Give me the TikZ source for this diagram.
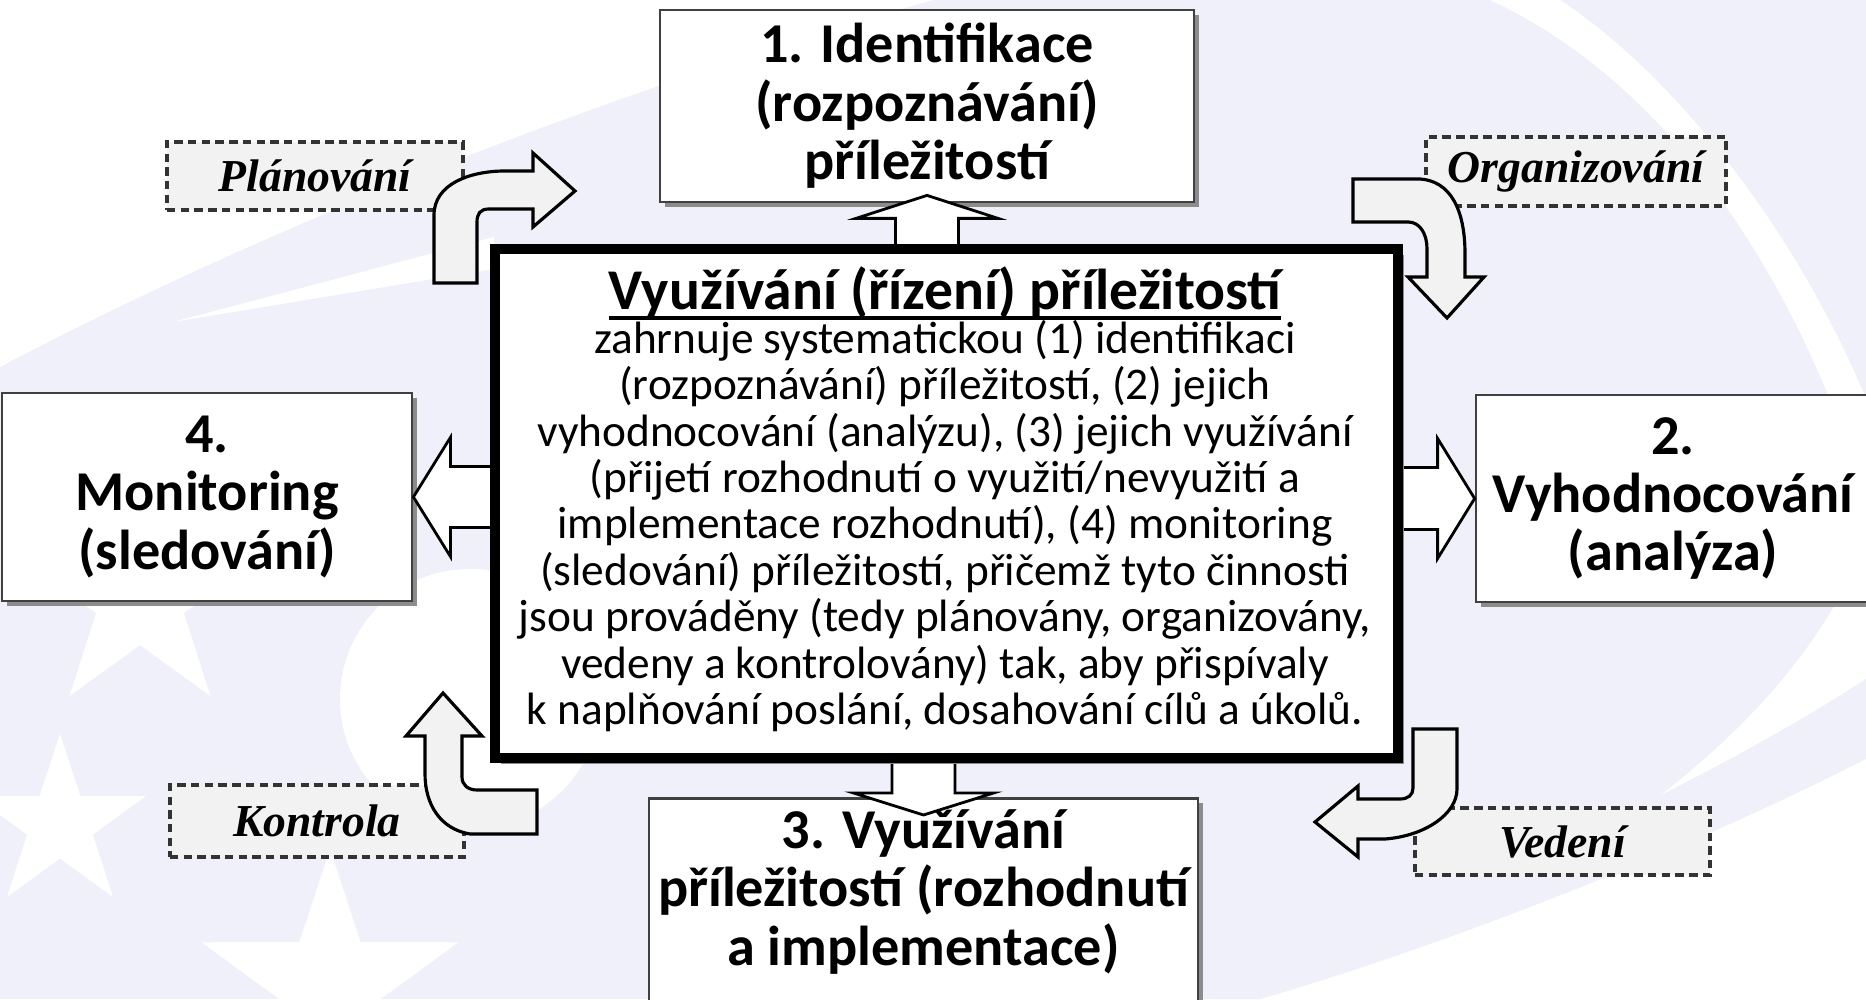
\documentclass[tikz,border=0pt]{standalone}
\usepackage{fontspec}
\setmainfont{Carlito}
\newfontfamily\tagfont{Liberation Serif}
\usetikzlibrary{calc,shadows,shapes.geometric}
\definecolor{bgpale}{RGB}{239,240,250}
\definecolor{tagfill}{RGB}{242,242,242}
% thick underline for the title
\newcommand{\thickul}[1]{\leavevmode\setbox0\hbox{#1}\rlap{\rule[-\dimexpr\dp0+0.5pt\relax]{\wd0}{1pt}}\box0}
\begin{document}
\begin{tikzpicture}[
		box/.style={draw=black!75, line width=0.8pt, fill=white, align=center, inner sep=0pt,
			font=\bfseries\fontsize{16}{16.6}\selectfont,
			drop shadow={shadow xshift=1.4pt, shadow yshift=-1.4pt, fill=black!45, opacity=1}},
		mainbox/.style={draw=black, line width=2.6pt, fill=white, inner sep=0pt,
			drop shadow={shadow xshift=1.6pt, shadow yshift=-1.6pt, fill=black!45, opacity=1}},
		tag/.style={draw=black!80, line width=1pt, dash pattern=on 2.4pt off 1.5pt, fill=tagfill,
			inner sep=0pt, font=\tagfont\bfseries\itshape\fontsize{13}{14}\selectfont},
		blockarr/.style={draw=black, line width=0.8pt, fill=white},
		bendarr/.style={draw=black, line width=0.9pt, fill=tagfill},
		whitestar/.style={star, star points=5, star point ratio=2.6, fill=white, inner sep=0pt}]
	\useasboundingbox (0,0) rectangle (18.66,9.99);
	% pale background swooshes
	\begin{scope}
		\clip (0,0) rectangle (18.66,9.99);
		\fill[bgpale] (0,0) rectangle (18.66,9.99);
		\fill[white] (0,9.99) -- (9.33,9.99) .. controls (6.5,9.2) and (3.0,7.9) .. (0,6.32) -- cycle;
		\fill[white] (1.73,6.77) -- (4.94,7.62) -- (4.94,7.30) -- cycle;
		\fill[white] (15.6,9.99) .. controls (16.8,9.2) and (18.0,7.6) .. (18.66,6.0) -- (18.66,5.0)
			.. controls (17.9,7.4) and (16.6,9.2) .. (14.9,9.99) -- cycle;
		\fill[white] (18.66,4.6) .. controls (17.9,2.5) and (15.0,0.6) .. (12.2,0) -- (18.66,0) -- cycle;
		\fill[bgpale] (18.66,2.4) .. controls (16.5,1.3) and (14.0,0.4) .. (12.6,0) -- (11.4,0)
			.. controls (13.5,0.6) and (16.5,1.8) .. (18.66,3.2) -- cycle;
		\fill[white] (4.7,3.0) circle (1.3);
		\foreach \p/\s [count=\i] in {(1.4,4.0)/2.4, (0.6,1.75)/1.8, (3.3,0.15)/2.7}
			\node[whitestar, minimum size=\s cm] (st\i) at \p {};
	\end{scope}
	% the four stages
	\node[box, minimum width=5.34cm, minimum height=1.92cm] (b1) at (9.27,8.93)
		{1. Identifikace\\(rozpoznávání)\\příležitostí};
	\node[box, minimum width=4.10cm, minimum height=2.08cm] (b4) at (2.07,5.02)
		{4.\\Monitoring\\(sledování)};
	\node[box, minimum width=3.94cm, minimum height=2.07cm] (b2) at (16.73,5.005)
		{2.\\Vyhodnocování\\(analýza)};
	\node[box, minimum width=5.49cm, minimum height=2.6cm, anchor=north] (b3) at (9.235,2.02) {};
	\node[align=center, inner sep=0pt, font=\bfseries\fontsize{16}{16.6}\selectfont] (b3t) at (9.235,1.07)
		{3. Využívání\\příležitostí (rozhodnutí\\a implementace)};
	% the central box, drawn after the arrows
	\path (9.465,4.955) node[minimum width=9.03cm, minimum height=5.09cm, inner sep=0pt] (cen) {};
	% straight block arrows
	\draw[blockarr] ([xshift=-3.15mm]b1.south |- cen.north) |- ([xshift=-7.1mm,yshift=-1.5mm]b1.south)
		-- ([yshift=0.8mm]b1.south) -- ([xshift=7.1mm,yshift=-1.5mm]b1.south)
		-| ([xshift=3.15mm]b1.south |- cen.north) -- cycle;
	\draw[blockarr] ([xshift=-3.15mm]b3.north |- cen.south) |- ([xshift=-7mm,yshift=0.4mm]b3.north)
		-- ([yshift=-1.8mm]b3.north) -- ([xshift=7mm,yshift=0.4mm]b3.north)
		-| ([xshift=3.15mm]b3.north |- cen.south) -- cycle;
	\draw[blockarr] ([yshift=3.05mm]b4.east -| cen.west) -| ([xshift=3.7mm,yshift=5.95mm]b4.east)
		-- (b4.east) -- ([xshift=3.7mm,yshift=-5.95mm]b4.east)
		|- ([yshift=-3.05mm]b4.east -| cen.west) -- cycle;
	\draw[blockarr] ([yshift=3.1mm]b2.west -| cen.east) -| ([xshift=-3.7mm,yshift=6mm]b2.west)
		-- (b2.west) -- ([xshift=-3.7mm,yshift=-6mm]b2.west)
		|- ([yshift=-3.1mm]b2.west -| cen.east) -- cycle;
	\node[mainbox, minimum width=9.03cm, minimum height=5.09cm] (main) at (cen) {};
	\node[align=center, inner sep=0pt, font=\fontsize{12.9}{13.2}\selectfont] (maintxt) at (9.45,5.00)
		{{\bfseries\fontsize{16.4}{16}\selectfont\thickul{Využívání (řízení) příležitostí}}\\[-0.6pt]
		zahrnuje systematickou (1) identifikaci\\
		(rozpoznávání) příležitostí, (2) jejich\\
		vyhodnocování (analýzu), (3) jejich využívání\\
		(přijetí rozhodnutí o využití/nevyužití a\\
		implementace rozhodnutí), (4) monitoring\\
		(sledování) příležitostí, přičemž tyto činnosti\\
		jsou prováděny (tedy plánovány, organizovány,\\
		vedeny a kontrolovány) tak, aby přispívaly\\
		k naplňování poslání, dosahování cílů a úkolů.};
	% management functions
	\node[tag, minimum width=2.96cm, minimum height=0.68cm] (plan) at (3.15,8.23) {Plánování};
	\node[tag, minimum width=3.00cm, minimum height=0.69cm] (org) at (15.76,8.275) {Organizování};
	\node[tag, minimum width=2.94cm, minimum height=0.72cm] (kon) at (3.17,1.78) {Kontrola};
	\node[tag, minimum width=2.95cm, minimum height=0.67cm] (ved) at (15.625,1.575) {Vedení};
	% bent arrows
	\draw[bendarr] (4.34,7.16) -- (4.34,7.84) .. controls (4.34,8.15) and (4.70,8.28) .. (5.05,8.28)
		-- (5.33,8.28) -- (5.33,8.46) -- (5.75,8.08) -- (5.33,7.72) -- (5.33,7.90) -- (4.89,7.90)
		.. controls (4.80,7.90) and (4.77,7.85) .. (4.77,7.77) -- (4.77,7.16) -- cycle;
	\draw[bendarr] (13.53,8.20) -- (14.20,8.20) .. controls (14.50,8.18) and (14.65,7.90) .. (14.65,7.45)
		-- (14.65,7.22) -- (14.84,7.22) -- (14.47,6.81) -- (14.08,7.22) -- (14.27,7.22) -- (14.27,7.50)
		.. controls (14.27,7.65) and (14.20,7.77) .. (14.08,7.77) -- (13.53,7.77) -- cycle;
	\draw[bendarr] (4.43,3.06) -- (4.82,2.63) -- (4.62,2.63) -- (4.62,2.22)
		.. controls (4.62,2.14) and (4.68,2.09) .. (4.77,2.09) -- (5.37,2.09) -- (5.37,1.65) -- (4.70,1.65)
		.. controls (4.40,1.70) and (4.25,1.95) .. (4.25,2.25) -- (4.25,2.63) -- (4.06,2.63) -- cycle;
	\draw[bendarr] (14.13,2.70) -- (14.13,2.11) .. controls (14.13,2.04) and (14.08,2.00) .. (14.00,2.00)
		-- (13.58,2.00) -- (13.58,2.13) -- (13.15,1.77) -- (13.58,1.42) -- (13.58,1.60) -- (13.85,1.60)
		.. controls (14.25,1.63) and (14.57,1.85) .. (14.57,2.10) -- (14.57,2.70) -- cycle;
\end{tikzpicture}
\end{document}
